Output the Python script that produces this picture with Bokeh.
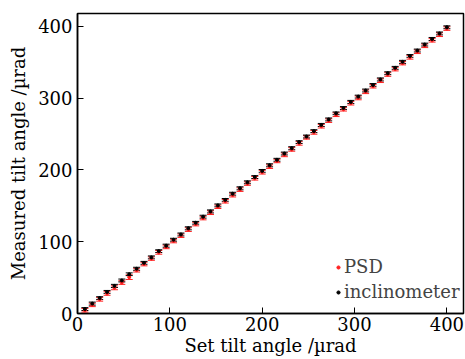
from bokeh.plotting import figure
from bokeh.models import ColumnDataSource, Whisker, TeeHead, Range1d, FixedTicker
from bokeh.embed import file_html
from bokeh.resources import INLINE

set_angle = [8, 16, 24, 32, 40, 48, 56, 64, 72, 80, 88, 96, 104, 112, 120, 128, 136, 144, 152, 160,
             168, 176, 184, 192, 200, 208, 216, 224, 232, 240, 248, 256, 264, 272, 280, 288, 296, 304, 312, 320,
             328, 336, 344, 352, 360, 368, 376, 384, 392, 400]
inclinometer = [6.2, 13.8, 21.5, 30.1, 38.4, 46.0, 54.7, 62.3, 70.6, 78.2, 86.9, 94.5, 102.8, 110.1, 118.7, 126.4,
                134.9, 142.2, 150.6, 158.3, 166.9, 174.4, 182.8, 190.1, 198.7, 206.5, 214.2, 222.9, 230.3, 238.8,
                246.6, 254.1, 262.7, 270.4, 278.9, 286.3, 294.8, 302.2, 310.7, 318.5, 326.1, 334.8, 342.3, 350.6,
                358.9, 366.4, 374.7, 382.5, 390.2, 398.8]
psd = [4.5, 12.0, 19.8, 27.9, 35.8, 43.1, 50.6, 60.4, 68.9, 76.5, 85.2, 92.8, 101.0, 108.4, 116.9, 124.6,
       133.0, 140.5, 148.7, 156.4, 165.0, 172.6, 181.0, 188.4, 196.9, 204.6, 212.5, 221.1, 228.6, 237.0,
       245.3, 252.4, 260.9, 268.7, 277.0, 284.5, 293.0, 300.4, 308.9, 316.6, 324.4, 333.0, 340.5, 348.8,
       357.0, 364.7, 373.0, 380.6, 388.5, 397.0]
psd_err = [2.5, 2.4, 2.6, 2.5, 2.7, 2.5, 3.2, 2.6, 2.5, 2.4, 2.6, 2.5, 2.5, 2.4, 2.6, 2.5, 2.5, 2.6, 2.4, 2.5,
           2.6, 2.5, 2.4, 2.5, 2.6, 2.5, 2.4, 2.6, 2.5, 2.5, 2.4, 2.6, 2.5, 2.5, 2.6, 2.4, 2.5, 2.6, 2.5, 2.4,
           2.6, 2.5, 2.5, 2.4, 2.6, 2.5, 2.5, 2.4, 2.6, 2.5]
incl_err = [2.0, 2.1, 1.9, 2.0, 2.2, 2.0, 1.9, 2.1, 2.0, 2.0, 1.9, 2.1, 2.0, 2.0, 2.1, 1.9, 2.0, 2.1, 2.0, 1.9,
            2.0, 2.1, 2.0, 2.0, 1.9, 2.1, 2.0, 2.0, 2.1, 1.9, 2.0, 2.0, 2.1, 2.0, 1.9, 2.0, 2.1, 2.0, 2.0, 1.9,
            2.1, 2.0, 2.0, 2.1, 1.9, 2.0, 2.0, 2.1, 2.0, 2.0]
ticks = [0, 100, 200, 300, 400]

FONT = "DejaVu Serif"

src_p = ColumnDataSource(dict(x=set_angle, y=psd,
                              lo=[v - e for v, e in zip(psd, psd_err)],
                              hi=[v + e for v, e in zip(psd, psd_err)]))
src_i = ColumnDataSource(dict(x=set_angle, y=inclinometer,
                              lo=[v - e for v, e in zip(inclinometer, incl_err)],
                              hi=[v + e for v, e in zip(inclinometer, incl_err)]))

p = figure(width=465, height=359, output_backend="svg", toolbar_location=None,
           x_range=Range1d(0, 418), y_range=Range1d(0, 418),
           min_border_left=77, min_border_right=2, min_border_top=13, min_border_bottom=46)

for src, col in ((src_p, "#ff2020"), (src_i, "black")):
    w = Whisker(source=src, base="x", lower="lo", upper="hi", dimension="height",
                line_color=col, line_width=1,
                lower_head=TeeHead(size=7, line_color=col, line_width=1),
                upper_head=TeeHead(size=7, line_color=col, line_width=1))
    p.add_layout(w)

p.scatter("x", "y", source=src_p, size=3, color="#ff2020", legend_label="PSD")
p.scatter("x", "y", source=src_i, size=3, color="black", legend_label="inclinometer")

p.xgrid.visible = False
p.ygrid.visible = False
p.outline_line_color = "black"
p.outline_line_width = 1.5
p.outline_line_alpha = 1

for ax in (p.xaxis[0], p.yaxis[0]):
    ax.ticker = FixedTicker(ticks=ticks, minor_ticks=[])
    ax.major_tick_in = 6
    ax.major_tick_out = 0
    ax.minor_tick_in = 0
    ax.minor_tick_out = 0
    ax.axis_line_width = 1.5
    ax.axis_line_color = "black"
    ax.major_tick_line_color = "black"
    ax.major_label_text_font = FONT
    ax.major_label_text_font_size = "18px"
    ax.major_label_text_color = "black"
    ax.axis_label_text_font = FONT
    ax.axis_label_text_font_size = "18px"
    ax.axis_label_text_font_style = "normal"
    ax.axis_label_text_color = "black"

p.xaxis.axis_label = "Set tilt angle /µrad"
p.yaxis.axis_label = "Measured tilt angle /µrad"
p.xaxis.major_label_standoff = 3
p.xaxis.axis_label_standoff = 1
p.yaxis.major_label_standoff = 5
p.yaxis.axis_label_standoff = 6

lg = p.legend[0]
lg.location = (256, 10)
lg.border_line_alpha = 0
lg.background_fill_alpha = 0
lg.label_text_font = FONT
lg.label_text_font_size = "18px"
lg.glyph_width = 8
lg.glyph_height = 14
lg.label_standoff = 2
lg.spacing = 4
lg.padding = 1
lg.margin = 0
lg.label_height = 19
lg.label_text_line_height = 1.0

open("out.html", "w").write(file_html(p, INLINE))
